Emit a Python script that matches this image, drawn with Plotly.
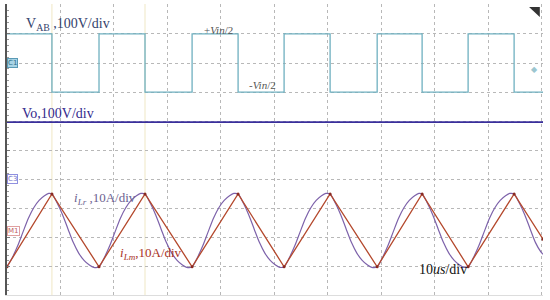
import plotly.graph_objs as go

# switching instants (us), 10us/div
edge_t = [0.0, 8.4, 17.2, 25.8, 34.6, 43.2, 51.8, 60.4, 69.2, 77.6, 86.2, 94.8, 100.2]
vab_v = [100, -100, 100, -100, 100, -100, 100, -100, 100, -100, 100, -100, -100]
ilm_a = [-12.5, 12.5, -12.5, 12.5, -12.5, 12.5, -12.5, 12.5, -12.5, 12.5, -12.5, 12.5, -3.0]

vo_t = [0.0, 100.2]
vo_v = [195, 195]

ilr_t = [0.0, 1.0, 2.0, 3.0, 4.0, 5.0, 6.0, 7.0, 7.8,
         8.4, 9.4, 10.4, 11.4, 12.4, 13.4, 14.4, 15.4, 16.2,
         17.2, 18.2, 19.2, 20.2, 21.2, 22.2, 23.2, 24.2, 25.0,
         25.8, 26.8, 27.8, 28.8, 29.8, 30.8, 31.8, 32.8, 33.6,
         34.6, 35.6, 36.6, 37.6, 38.6, 39.6, 40.6, 41.6, 42.4,
         43.2, 44.2, 45.2, 46.2, 47.2, 48.2, 49.2, 50.2, 51.0,
         51.8, 52.8, 53.8, 54.8, 55.8, 56.8, 57.8, 58.8, 59.6,
         60.4, 61.4, 62.4, 63.4, 64.4, 65.4, 66.4, 67.4, 68.2,
         69.2, 70.2, 71.2, 72.2, 73.2, 74.2, 75.2, 76.2, 77.0,
         77.6, 78.6, 79.6, 80.6, 81.6, 82.6, 83.6, 84.6, 85.4,
         86.2, 87.2, 88.2, 89.2, 90.2, 91.2, 92.2, 93.2, 94.0,
         94.8, 95.8, 96.8, 97.8, 98.8, 99.8, 100.2]
ilr_a = [-12.5, -9.3, -5.3, -0.5, 4.2, 7.8, 10.3, 11.9, 12.7,
         12.5, 9.3, 5.3, 0.5, -4.2, -7.8, -10.3, -11.9, -12.7,
         -12.5, -9.3, -5.3, -0.5, 4.2, 7.8, 10.3, 11.9, 12.7,
         12.5, 9.3, 5.3, 0.5, -4.2, -7.8, -10.3, -11.9, -12.7,
         -12.5, -9.3, -5.3, -0.5, 4.2, 7.8, 10.3, 11.9, 12.7,
         12.5, 9.3, 5.3, 0.5, -4.2, -7.8, -10.3, -11.9, -12.7,
         -12.5, -9.3, -5.3, -0.5, 4.2, 7.8, 10.3, 11.9, 12.7,
         12.5, 9.3, 5.3, 0.5, -4.2, -7.8, -10.3, -11.9, -12.7,
         -12.5, -9.3, -5.3, -0.5, 4.2, 7.8, 10.3, 11.9, 12.7,
         12.5, 9.3, 5.3, 0.5, -4.2, -7.8, -10.3, -11.9, -12.7,
         -12.5, -9.3, -5.3, -0.5, 4.2, 7.8, 10.3, 11.9, 12.7,
         12.5, 9.3, 5.3, 0.5, -4.2, -7.4, -8.2]

serif = "Liberation Serif, Times New Roman, serif"

fig = go.Figure()
fig.add_trace(go.Scatter(x=edge_t, y=vab_v, mode='lines', line=dict(color='#6fb0c0', width=1.3, shape='hv'),
                         yaxis='y'))
fig.add_trace(go.Scatter(x=vo_t, y=vo_v, mode='lines', line=dict(color='#3a2f9c', width=1.6), yaxis='y2'))
fig.add_trace(go.Scatter(x=ilr_t, y=ilr_a, mode='lines', line=dict(color='#7d62aa', width=1.2, shape='spline',
                                                                     smoothing=0.8), yaxis='y3'))
fig.add_trace(go.Scatter(x=edge_t, y=ilm_a, mode='lines+markers', line=dict(color='#b4482c', width=1.3),
                         marker=dict(size=3, color='#8a2a20'), yaxis='y3'))

grid = dict(showgrid=True, gridcolor='#b8b8b8', griddash='dot', gridwidth=1, zeroline=False, showticklabels=False)
fig.update_layout(
    width=550, height=300, margin=dict(l=7, r=7, t=4, b=5),
    paper_bgcolor='white', plot_bgcolor='white', showlegend=False,
    xaxis=dict(range=[0, 100.2], dtick=10, tick0=0, showline=True, linecolor='#dddddd', ticks='', **grid),
    yaxis=dict(range=[-797, 203], dtick=100, tick0=0, showline=True, linecolor='#555555', linewidth=2,
               ticks='inside', ticklen=3, tickcolor='#777777',
               minor=dict(dtick=20, ticks='inside', ticklen=2, tickcolor='#999999'), **grid),
    yaxis2=dict(range=[-399, 601], overlaying='y', visible=False),
    yaxis3=dict(range=[-22.2, 77.8], overlaying='y', visible=False),
)

for t in [8.4, 25.8]:
    fig.add_shape(type='line', xref='x', yref='paper', x0=t, x1=t, y0=0, y1=1,
                  line=dict(color='rgba(225,210,140,0.5)', width=1), layer='below')

fig.add_shape(type='path', xref='paper', yref='paper', path='M 0.974 0.990 L 0.994 0.990 L 0.994 0.955 Z',
              fillcolor='#333333', line=dict(width=0))

labels = [
    ("V<sub>AB</sub> ,100V/div", 0.031, 0.931, '#34426c', 14),
    ("+<i>Vin</i>/2", 0.364, 0.911, '#555555', 11),
    ("-<i>Vin</i>/2", 0.447, 0.722, '#555555', 11),
    ("Vo,100V/div", 0.024, 0.625, '#33298c', 14),
    ("<i>i<sub>Lr</sub></i> ,10A/div", 0.121, 0.333, '#6b5f8f', 13),
    ("<i>i<sub>Lm</sub></i>,10A/div", 0.207, 0.144, '#a8321e', 13),
    ("10<i>us</i>/div", 0.765, 0.086, '#111111', 14),
]
for txt, x, y, col, sz in labels:
    fig.add_annotation(text=txt, x=x, y=y, xref='paper', yref='paper', xanchor='left', yanchor='middle',
                       showarrow=False, font=dict(family=serif, size=sz, color=col))

marks = [("C1", 0.797, '#a8d4e6', '#5a9ab5', '#2f6f8a'),
         ("C3", 0.399, 'white', '#9090e0', '#7070c8'),
         ("M1", 0.220, 'white', '#e0a0a0', '#c06060')]
for txt, y, bg, bd, fc in marks:
    fig.add_annotation(text=txt, x=0.0, y=y, xref='paper', yref='paper', xanchor='left', yanchor='middle',
                       showarrow=False, bgcolor=bg, bordercolor=bd, borderwidth=1, borderpad=0,
                       font=dict(family='DejaVu Sans', size=7, color=fc))

fig.add_annotation(text="◆", x=0.994, y=0.797, xref='paper', yref='paper', showarrow=False,
                   font=dict(family='DejaVu Sans', size=8, color='#9cc6d0'))

# drop the page's default body margin so the figure sits at the window corner
fig.write_html("out.html", config={'displayModeBar': False},
               post_script="document.body.style.margin='0';")
